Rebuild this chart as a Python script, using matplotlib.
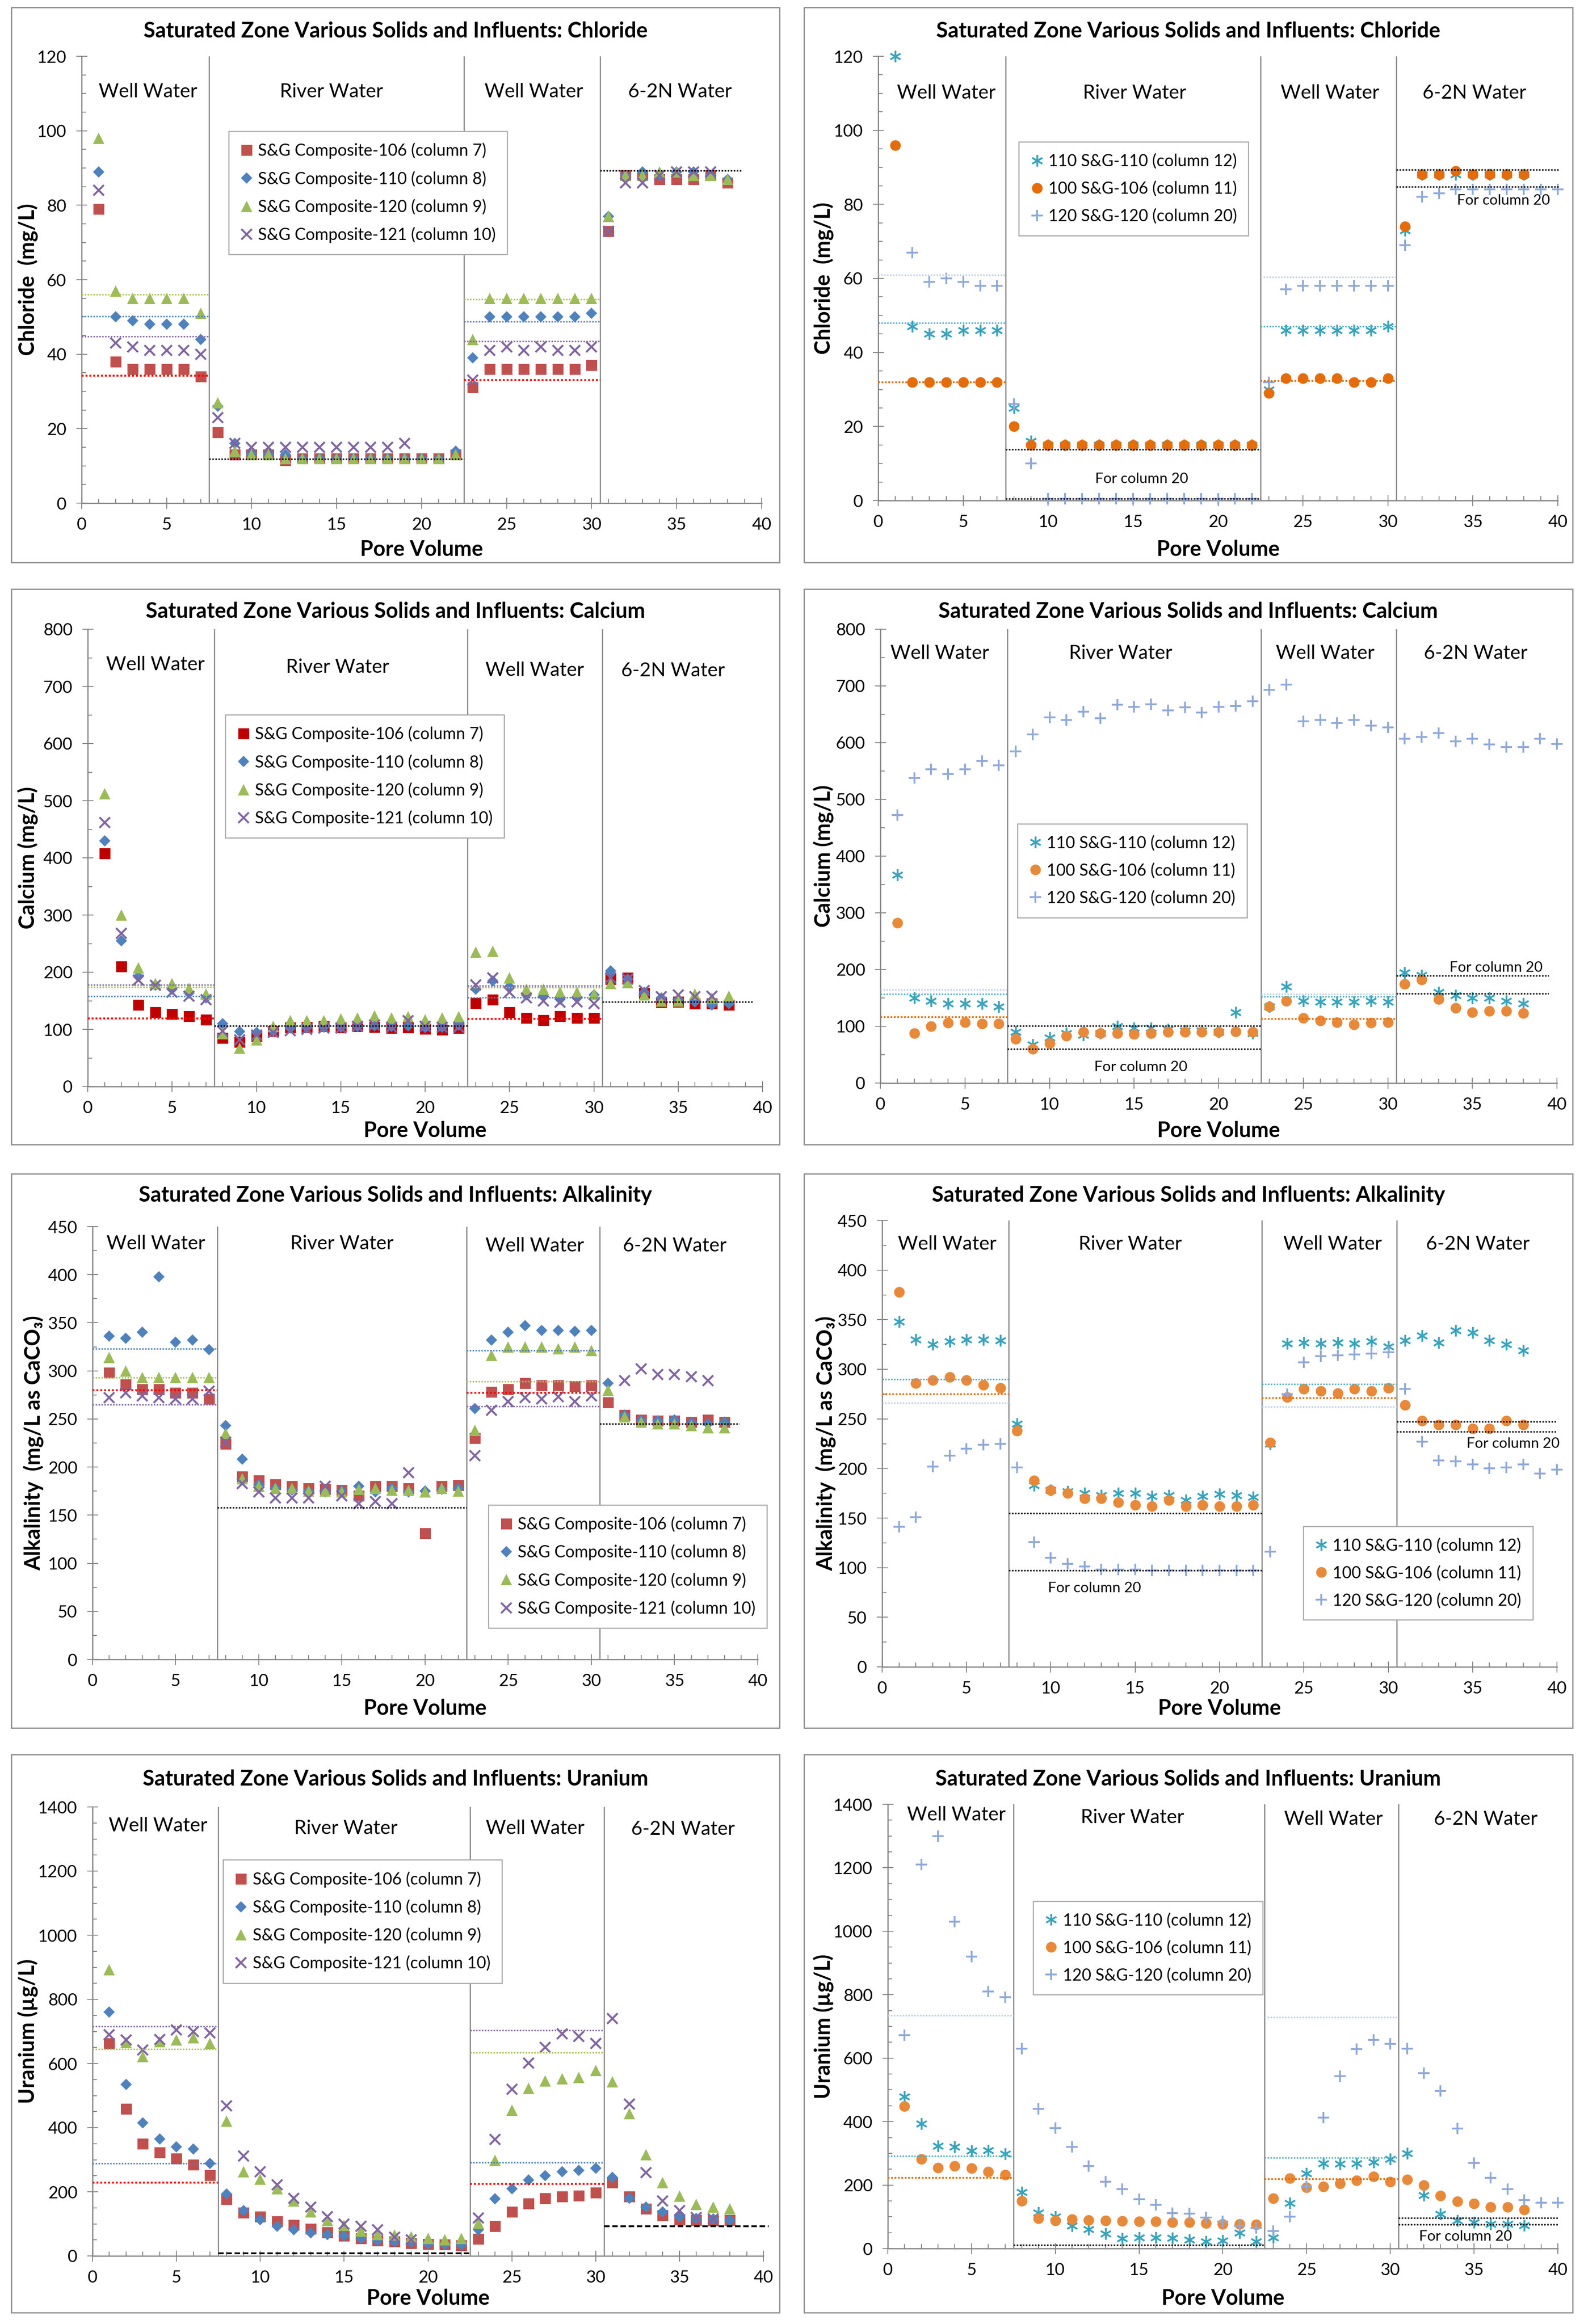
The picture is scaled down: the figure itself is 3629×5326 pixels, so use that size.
import numpy as np
import matplotlib.pyplot as plt
from matplotlib.patches import Rectangle
from matplotlib.ticker import MultipleLocator

nan = np.nan
W, H = 3630, 5326

# pore volumes
pv38 = np.arange(1, 39)
pv40 = np.arange(1, 41)

# ---------------- Chloride (mg/L) ----------------
cl_106 = [79, 38, 36, 36, 36, 36, 34,
          19, 13, 13, 13, 11.5, 12, 12, 12, 12, 12, 12, 12, 12, 12, 13,
          31, 36, 36, 36, 36, 36, 36, 37,
          73, 88, 88, 87, 87, 87, 88, 86]
cl_110 = [89, 50, 49, 48, 48, 48, 44,
          26, 16, 13, 13, 13, 12, 12, 12, 12, 12, 12, 12, 12, 12, 14,
          39, 50, 50, 50, 50, 50, 50, 51,
          77, 88, 89, 88, 89, 89, 88, 87]
cl_120 = [98, 57, 55, 55, 55, 55, 51,
          27, 14, 13, 13, 12, 12, 12, 12, 12, 12, 12, 12, 12, 12, 13,
          44, 55, 55, 55, 55, 55, 55, 55,
          77, 88, 88, 89, 89, 88, 88, 87]
cl_121 = [84, 43, 42, 41, 41, 41, 40,
          23, 16, 15, 15, 15, 15, 15, 15, 15, 15, 15, 16, nan, nan, nan,
          33, 41, 42, 41, 42, 41, 41, 42,
          73, 86, 86, 88, 89, 89, 89, nan]
cl_col12 = [120, 47, 45, 45, 46, 46, 46,
            25, 16, 15, 15, 15, 15, 15, 15, 15, 15, 15, 15, 15, 15, 15,
            30, 46, 46, 46, 46, 46, 46, 47,
            73, 88, 88, 88, 88, 88, 88, 88]
cl_col11 = [96, 32, 32, 32, 32, 32, 32,
            20, 15, 15, 15, 15, 15, 15, 15, 15, 15, 15, 15, 15, 15, 15,
            29, 33, 33, 33, 33, 32, 32, 33,
            74, 88, 88, 89, 88, 88, 88, 88]
cl_col20 = [nan, 67, 59, 60, 59, 58, 58,
            26, 10, 0.5, 0.5, 0.5, 0.5, 0.5, 0.5, 0.5, 0.5, 0.5, 0.5, 0.5, 0.5, 0.5,
            32, 57, 58, 58, 58, 58, 58, 58,
            69, 82, 83, 84, 84, 84, 84, 84, 84, 84]
# influent levels: [well water 1, well water 2]
cl_inf_106 = [34.2, 33.0]
cl_inf_110 = [50.2, 48.7]
cl_inf_120 = [56.0, 54.7]
cl_inf_121 = [44.8, 43.5]
cl_inf_col12 = [48.0, 47.0]
cl_inf_col11 = [32.0, 32.3]
cl_inf_col20 = [61.0, 60.3]
cl_river_left = [11.8]
cl_62n_left = [89.3]
cl_river_right = [13.8, 0.5]
cl_62n_right = [89.3, 84.7]

# ---------------- Calcium (mg/L) ----------------
ca_106 = [408, 210, 143, 130, 127, 123, 117,
          85, 78, 88, 97, 103, 104, 105, 103, 105, 104, 102, 103, 101, 99, 102,
          146, 152, 130, 120, 116, 123, 120, 120,
          188, 190, 163, 147, 148, 145, 145, 143]
ca_110 = [430, 255, 192, 177, 170, 163, 155,
          110, 96, 95, 97, 102, 103, 104, 104, 105, 106, 105, 106, 103, 104, 108,
          170, 185, 175, 160, 158, 153, 155, 160,
          202, 188, 165, 155, 152, 148, 143, 145]
ca_120 = [512, 300, 208, 180, 180, 172, 162,
          92, 67, 82, 105, 115, 115, 115, 118, 120, 124, 120, 122, 117, 120, 122,
          235, 237, 190, 170, 170, 165, 165, 162,
          180, 182, 160, 150, 150, 162, 155, 158]
ca_121 = [462, 268, 186, 177, 165, 158, 152,
          97, 82, 90, 95, 98, 100, 102, 102, 105, 108, 104, 115, 105, 104, 104,
          178, 190, 165, 155, 150, 147, 148, 145,
          190, 188, 168, 157, 160, 157, 158, nan]
ca_col12 = [367, 150, 145, 140, 140, 140, 135,
            90, 68, 80, 88, 85, 88, 100, 97, 97, 95, 92, 92, 90, 125, 88,
            135, 170, 145, 143, 143, 143, 145, 143,
            195, 190, 160, 155, 150, 150, 145, 140]
ca_col11 = [282, 88, 100, 106, 107, 105, 105,
            78, 60, 70, 83, 90, 88, 88, 86, 88, 90, 90, 90, 90, 91, 90,
            135, 145, 115, 110, 107, 103, 106, 107,
            175, 182, 148, 132, 125, 127, 127, 123]
ca_col20 = [472, 538, 553, 545, 553, 568, 560,
            585, 615, 645, 640, 655, 643, 667, 663, 668, 657, 662, 653, 663, 665, 673,
            693, 702, 638, 640, 635, 640, 630, 627,
            607, 610, 617, 602, 607, 597, 592, 592, 607, 598]
ca_inf_106 = [119, 118]
ca_inf_110 = [158, 156]
ca_inf_120 = [174, 173]
ca_inf_121 = [178, 176]
ca_inf_col12 = [157, 152]
ca_inf_col11 = [116, 113]
ca_inf_col20 = [165, 157]
ca_river_left = [106]
ca_62n_left = [148]
ca_river_right = [101, 60]
ca_62n_right = [189, 158]

# ---------------- Alkalinity (mg/L as CaCO3) ----------------
al_106 = [298, 286, 281, 281, 277, 277, 271,
          224, 190, 186, 182, 180, 178, 177, 176, 170, 180, 180, 178, 131, 180, 181,
          230, 278, 281, 287, 285, 285, 284, 285,
          267, 254, 249, 248, 248, 247, 249, 247]
al_110 = [336, 334, 340, 398, 330, 332, 322,
          243, 208, 182, 178, 176, 175, 174, 175, 180, 174, 178, 174, 175, 177, 178,
          261, 332, 340, 347, 342, 342, 341, 342,
          287, 254, 248, 248, 249, 246, 245, 247]
al_120 = [314, 300, 293, 293, 293, 293, 293,
          235, 188, 180, 178, 178, 175, 175, 174, 177, 178, 176, 176, 174, 178, 175,
          238, 316, 325, 325, 325, 323, 325, 321,
          280, 252, 247, 245, 245, 243, 241, 241]
al_121 = [272, 277, 274, 272, 271, 271, 279,
          226, 183, 174, 168, 168, 168, 180, 170, 162, 164, 162, 194, nan, nan, nan,
          212, 259, 268, 272, 271, 273, 268, 274,
          nan, 290, 302, 296, 296, 294, 290, nan]
al_col12 = [348, 330, 325, 328, 330, 330, 329,
            245, 183, 178, 177, 175, 173, 175, 175, 172, 173, 168, 172, 174, 173, 171,
            225, 326, 327, 326, 327, 326, 328, 323,
            329, 334, 327, 339, 337, 329, 325, 319]
al_col11 = [378, 286, 289, 292, 289, 284, 281,
            238, 188, 178, 175, 170, 170, 166, 163, 162, 168, 162, 163, 162, 162, 163,
            226, 272, 280, 278, 276, 280, 278, 281,
            264, 248, 244, 244, 240, 240, 248, 244]
al_col20 = [141, 151, 202, 213, 220, 224, 225,
            201, 126, 110, 104, 101, 98, 98, 98, 97, 97, 97, 97, 97, 97, 97,
            116, 275, 307, 313, 314, 315, 316, 317,
            280, 227, 208, 207, 204, 200, 201, 204, 195, 199]
al_inf_106 = [280, 277]
al_inf_110 = [323, 321]
al_inf_120 = [293, 289]
al_inf_121 = [265, 263]
al_inf_col12 = [290, 285]
al_inf_col11 = [275, 271]
al_inf_col20 = [266, 262]
al_river_left = [158]
al_62n_left = [245]
al_river_right = [155, 97]
al_62n_right = [247, 237]

# ---------------- Uranium (ug/L) ----------------
u_106 = [663, 458, 350, 322, 303, 285, 252,
         177, 135, 123, 107, 97, 85, 73, 62, 55, 48, 45, 40, 37, 35, 33,
         53, 93, 137, 163, 180, 185, 188, 197,
         228, 185, 147, 127, 113, 112, 110, 112]
u_110 = [760, 535, 415, 365, 340, 333, 288,
         193, 142, 113, 92, 82, 72, 67, 62, 55, 48, 45, 43, 38, 35, 35,
         82, 178, 210, 237, 250, 262, 267, 273,
         245, 180, 152, 137, 122, 117, 115, 112]
u_120 = [892, 665, 622, 668, 673, 680, 662,
         420, 262, 240, 210, 172, 137, 110, 95, 78, 67, 65, 60, 55, 50, 55,
         102, 298, 455, 523, 545, 553, 557, 578,
         543, 443, 315, 228, 187, 160, 153, 147]
u_121 = [690, 673, 642, 675, 705, 700, 695,
         468, 312, 262, 222, 180, 153, 123, 100, 92, 82, 58, 50, nan, nan, nan,
         118, 363, 520, 602, 650, 693, 685, 662,
         740, 473, 260, 172, 142, 120, 115, nan]
u_col12 = [478, 393, 323, 320, 308, 310, 298,
           178, 113, 100, 72, 60, 47, 32, 35, 35, 33, 27, 22, 25, 50, 22,
           35, 143, 237, 268, 267, 268, 272, 282,
           300, 168, 108, 88, 82, 77, 77, 73]
u_col11 = [448, 282, 255, 260, 253, 242, 232,
           150, 95, 88, 92, 90, 88, 87, 85, 85, 82, 82, 80, 77, 77, 75,
           158, 222, 192, 195, 205, 215, 227, 210,
           217, 200, 167, 148, 142, 130, 130, 122]
u_col20 = [672, 1210, 1300, 1030, 920, 810, 792,
           630, 440, 380, 320, 260, 210, 187, 155, 137, 112, 110, 97, 85, 72, 65,
           55, 100, 195, 413, 543, 628, 658, 645,
           630, 553, 497, 378, 270, 223, 187, 153, 145, 145]
u_inf_106 = [228, 225]
u_inf_110 = [288, 291]
u_inf_120 = [645, 634]
u_inf_121 = [715, 704]
u_inf_col12 = [292, 286]
u_inf_col11 = [223, 218]
u_inf_col20 = [735, 729]
u_river_left = [8]
u_62n_left = [93]
u_river_right = [11]
u_62n_right = [96, 75]

regions = ['Well Water', 'River Water', 'Well Water', '6-2N Water']
left_labels = ['S&G Composite-106 (column 7)', 'S&G Composite-110 (column 8)',
               'S&G Composite-120 (column 9)', 'S&G Composite-121 (column 10)']
right_labels = ['110 S&G-110 (column 12)', '100 S&G-106 (column 11)',
                '120 S&G-120 (column 20)']

# ---------------- styling ----------------
plt.rcParams['font.family'] = ['Lato', 'DejaVu Sans']
GRAY = '#868686'
M_SQ = dict(marker='s', ms=18, mew=0)
M_DI = dict(marker='D', ms=13, mew=0)
M_TR = dict(marker='^', ms=19, mew=0)
M_X = dict(marker='x', ms=17.5, mew=3.2)
M_ST = dict(marker=(6, 2, 0), ms=19, mew=2.6)
M_CI = dict(marker='o', ms=17.5, mew=0)
M_PL = dict(marker='+', ms=18.5, mew=3)

C_BLUE, C_GREEN, C_PURP = '#4F81BD', '#9BBB59', '#8064A2'
C_TEAL, C_PLUS = '#37A3BD', '#8EA9DB'
L_RED, L_BLUE, L_GREEN, L_PURP = '#FF0000', '#4A7EBB', '#A5C249', '#8064A2'
L_TEAL, L_ORNG, L_PLUS = '#4BACC6', '#E46C0A', '#B9CDE5'

fig = plt.figure(figsize=(W / 100, H / 100), dpi=100)


def fx(px):
    return px / W


def fy(py):
    return 1 - py / H


def panel(box, frame, title, title_y, ylabel, ylab_x, xlab_y, ymax, ymaj, ymin_step,
          series, inf_lines, river, six2n, six2n_end, region_x, region_y,
          leg_xy, notes=(), black_ls=(0, (1, 1)), black_lw=2.5):
    l, t, r, b = box
    ax = fig.add_axes([fx(l), fy(b), fx(r) - fx(l), (b - t) / H])
    fl, ft, fr, fb = frame
    fig.add_artist(Rectangle((fx(fl), fy(fb)), fx(fr) - fx(fl), (fb - ft) / H,
                             transform=fig.transFigure, fill=False, ec='#8C8C8C', lw=2))
    fig.text(fx((fl + fr) / 2), fy(title_y), title, ha='center', va='center',
             fontsize=35, fontweight='bold')

    ax.set_xlim(0, 40)
    ax.set_ylim(0, ymax)
    for s in ['top', 'right']:
        ax.spines[s].set_visible(False)
    for s in ['left', 'bottom']:
        ax.spines[s].set_color(GRAY)
        ax.spines[s].set_linewidth(2)
    ax.xaxis.set_major_locator(MultipleLocator(5))
    ax.xaxis.set_minor_locator(MultipleLocator(1))
    ax.yaxis.set_major_locator(MultipleLocator(ymaj))
    ax.yaxis.set_minor_locator(MultipleLocator(ymin_step))
    ax.tick_params(which='major', direction='inout', length=18, width=1.5, color=GRAY,
                   labelsize=28)
    ax.tick_params(which='minor', direction='in', length=7, width=1.5, color=GRAY)
    ax.tick_params(axis='y', which='major', pad=16)
    ax.tick_params(axis='x', which='major', pad=14)

    ax.set_ylabel(ylabel, fontsize=35, fontweight='bold')
    ax.yaxis.set_label_coords(fx(ylab_x), fy((t + b) / 2), transform=fig.transFigure)
    ax.set_xlabel('Pore Volume', fontsize=35, fontweight='bold')
    ax.xaxis.set_label_coords(fx((l + r) / 2), fy(xlab_y), transform=fig.transFigure)
    ax.xaxis.label.set_va('center')
    ax.yaxis.label.set_va('center')

    # flow-period separators
    for xv in [7.5, 22.5, 30.5]:
        ax.axvline(xv, color='#8A8A8A', lw=2, zorder=1)

    handles = []
    for xs, ys, lab, mk, col in series:
        mec = col if mk.get('mew', 0) > 0 else 'none'
        h, = ax.plot(xs, ys, linestyle='none', color=col, mec=mec, label=lab,
                     zorder=3, clip_on=False, **mk)
        handles.append(h)

    # influent concentrations
    for col, vals, lw in inf_lines:
        ax.plot([0, 7.5], [vals[0], vals[0]], color=col, lw=lw, ls=(0, (1, 1)), zorder=4)
        ax.plot([22.5, 30.5], [vals[1], vals[1]], color=col, lw=lw, ls=(0, (1, 1)), zorder=4)
    for v in river:
        ax.plot([7.5, 22.5], [v, v], color='black', lw=black_lw, ls=black_ls, zorder=4)
    for v in six2n:
        ax.plot([30.5, six2n_end], [v, v], color='black', lw=black_lw, ls=black_ls,
                zorder=4, clip_on=False)

    for name, xc, yc in zip(regions, region_x, region_y):
        ax.text(xc, yc, name, ha='center', va='center', fontsize=32)
    for xc, yc in notes:
        ax.text(xc, yc, 'For column 20', ha='center', va='center', fontsize=24)

    leg = ax.legend(handles=handles, loc='upper left', bbox_to_anchor=leg_xy,
                    fontsize=27, numpoints=1, handlelength=0.8, handletextpad=0.3,
                    borderpad=0.7, labelspacing=0.72, borderaxespad=0,
                    fancybox=False, framealpha=1, edgecolor='#A6A6A6')
    leg.get_frame().set_linewidth(1.8)
    leg.set_zorder(6)
    return ax


# ---- row 1: chloride ----
panel((187, 129, 1745, 1153), (26, 17, 1786, 1289),
      'Saturated Zone Various Solids and Influents: Chloride', 72,
      'Chloride  (mg/L)', 63, 1260, 120, 20, 5,
      [(pv38, cl_106, left_labels[0], M_SQ, '#C0504D'),
       (pv38, cl_110, left_labels[1], M_DI, C_BLUE),
       (pv38, cl_120, left_labels[2], M_TR, C_GREEN),
       (pv38, cl_121, left_labels[3], M_X, C_PURP)],
      [(L_GREEN, cl_inf_120, 2.4), (L_BLUE, cl_inf_110, 2.4),
       (L_PURP, cl_inf_121, 2.4), (L_RED, cl_inf_106, 3.2)],
      cl_river_left, cl_62n_left, 38.8,
      [3.9, 14.7, 26.6, 35.2], [110.5] * 4, (0.216, 0.832))

panel((2012, 129, 3569, 1147), (1842, 17, 3603, 1289),
      'Saturated Zone Various Solids and Influents: Chloride', 72,
      'Chloride  (mg/L)', 1886, 1260, 120, 20, 5,
      [(pv38, cl_col12, right_labels[0], M_ST, C_TEAL),
       (pv38, cl_col11, right_labels[1], M_CI, '#E46C0A'),
       (pv40, cl_col20, right_labels[2], M_PL, C_PLUS)],
      [(L_PLUS, cl_inf_col20, 2.4), (L_TEAL, cl_inf_col12, 2.4), (L_ORNG, cl_inf_col11, 2.8)],
      cl_river_right, cl_62n_right, 40.1,
      [4.0, 15.1, 26.6, 35.1], [110] * 4, (0.207, 0.807),
      notes=[(15.5, 5.8), (36.8, 81)])

# ---- row 2: calcium ----
panel((201, 1442, 1747, 2490), (26, 1350, 1786, 2623),
      'Saturated Zone Various Solids and Influents: Calcium', 1402,
      'Calcium (mg/L)', 63, 2591, 800, 100, 50,
      [(pv38, ca_106, left_labels[0], M_SQ, '#C00000'),
       (pv38, ca_110, left_labels[1], M_DI, C_BLUE),
       (pv38, ca_120, left_labels[2], M_TR, C_GREEN),
       (pv38, ca_121, left_labels[3], M_X, C_PURP)],
      [(L_PURP, ca_inf_121, 2.4), (L_GREEN, ca_inf_120, 2.4),
       (L_BLUE, ca_inf_110, 2.4), (L_RED, ca_inf_106, 3.2)],
      ca_river_left, ca_62n_left, 39.4,
      [4.0, 14.8, 26.5, 34.7], [738, 733, 728, 727], (0.204, 0.813))

panel((2017, 1442, 3567, 2482), (1842, 1350, 3603, 2623),
      'Saturated Zone Various Solids and Influents: Calcium', 1402,
      'Calcium (mg/L)', 1886, 2591, 800, 100, 50,
      [(pv38, ca_col12, right_labels[0], M_ST, C_TEAL),
       (pv38, ca_col11, right_labels[1], M_CI, '#E8893A'),
       (pv40, ca_col20, right_labels[2], M_PL, C_PLUS)],
      [(L_PLUS, ca_inf_col20, 2.4), (L_TEAL, ca_inf_col12, 2.4), (L_ORNG, ca_inf_col11, 2.8)],
      ca_river_right, ca_62n_right, 39.5,
      [3.5, 14.2, 26.3, 35.2], [757] * 4, (0.2025, 0.571),
      notes=[(15.4, 28), (36.4, 203)])

# ---- row 3: alkalinity ----
panel((212, 2811, 1736, 3803), (26, 2690, 1786, 3960),
      'Saturated Zone Various Solids and Influents: Alkalinity', 2740,
      'Alkalinity  (mg/L as CaCO₃)', 76, 3915, 450, 50, 25,
      [(pv38, al_106, left_labels[0], M_SQ, '#C0504D'),
       (pv38, al_110, left_labels[1], M_DI, C_BLUE),
       (pv38, al_120, left_labels[2], M_TR, C_GREEN),
       (pv38, al_121, left_labels[3], M_X, C_PURP)],
      [(L_BLUE, al_inf_110, 2.4), (L_GREEN, al_inf_120, 2.4),
       (L_PURP, al_inf_121, 2.4), (L_RED, al_inf_106, 3.2)],
      al_river_left, al_62n_left, 38.9,
      [3.8, 15.0, 26.6, 35.0], [432, 432, 430, 430], (0.595, 0.357))

panel((2021, 2797, 3567, 3820), (1842, 2690, 3603, 3960),
      'Saturated Zone Various Solids and Influents: Alkalinity', 2740,
      'Alkalinity  (mg/L as CaCO₃)', 1891, 3915, 450, 50, 25,
      [(pv38, al_col12, right_labels[0], M_ST, C_TEAL),
       (pv38, al_col11, right_labels[1], M_CI, '#E8893A'),
       (pv40, al_col20, right_labels[2], M_PL, C_PLUS)],
      [(L_PLUS, al_inf_col20, 2.4), (L_TEAL, al_inf_col12, 2.4), (L_ORNG, al_inf_col11, 2.8)],
      al_river_right, al_62n_right, 40.0,
      [3.85, 14.7, 26.7, 35.3], [426] * 4, (0.624, 0.315),
      notes=[(12.6, 79), (37.4, 225)])

# ---- row 4: uranium ----
panel((212, 4141, 1749, 5170), (26, 4021, 1786, 5300),
      'Saturated Zone Various Solids and Influents: Uranium', 4077,
      'Uranium (µg/L)', 63, 5268, 1400, 200, 50,
      [(pv38, u_106, left_labels[0], M_SQ, '#C0504D'),
       (pv38, u_110, left_labels[1], M_DI, C_BLUE),
       (pv38, u_120, left_labels[2], M_TR, C_GREEN),
       (pv38, u_121, left_labels[3], M_X, C_PURP)],
      [(L_PURP, u_inf_121, 2.4), (L_GREEN, u_inf_120, 2.4),
       (L_BLUE, u_inf_110, 2.4), (L_RED, u_inf_106, 3.2)],
      u_river_left, u_62n_left, 40.3,
      [3.9, 15.1, 26.4, 35.2], [1341, 1333, 1333, 1330], (0.1946, 0.882),
      black_ls=(0, (3, 1.5)), black_lw=3)

panel((2034, 4135, 3569, 5153), (1842, 4021, 3603, 5300),
      'Saturated Zone Various Solids and Influents: Uranium', 4077,
      'Uranium (µg/L)', 1886, 5268, 1400, 200, 50,
      [(pv38, u_col12, right_labels[0], M_ST, C_TEAL),
       (pv38, u_col11, right_labels[1], M_CI, '#E8893A'),
       (pv40, u_col20, right_labels[2], M_PL, C_PLUS)],
      [(L_PLUS, u_inf_col20, 2.4), (L_TEAL, u_inf_col12, 2.4), (L_ORNG, u_inf_col11, 2.8)],
      u_river_right, u_62n_right, 40.0,
      [4.1, 14.6, 26.6, 35.7], [1366, 1358, 1352, 1352], (0.217, 0.782),
      notes=[(34.5, 37)])

fig.savefig('out.png', dpi=100)
